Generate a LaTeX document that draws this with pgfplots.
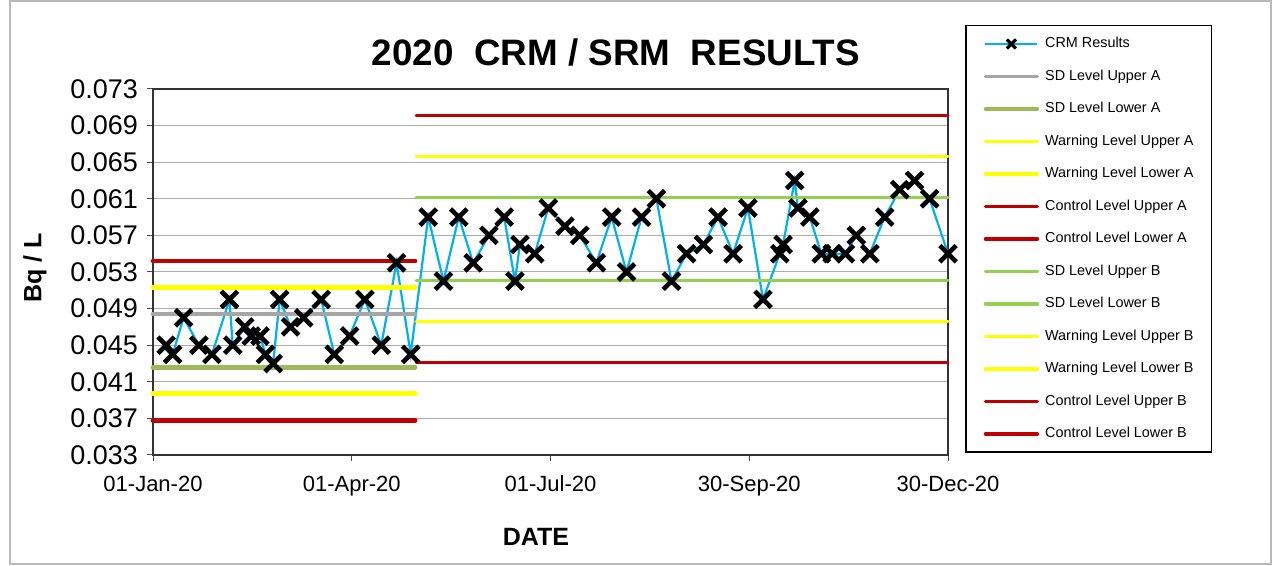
\documentclass[border=0pt]{standalone}
\usepackage{fontspec}
\setmainfont{Liberation Sans}
\usepackage{pgfplots}
\pgfplotsset{compat=1.18}
\definecolor{crmblue}{HTML}{00B0F0}
\definecolor{sdgray}{HTML}{A6A6A6}
\definecolor{sdgreenA}{HTML}{9BBB59}
\definecolor{sdgreenB}{HTML}{92D050}
\definecolor{warnyellow}{HTML}{FFFF00}
\definecolor{ctrlred}{HTML}{C00000}
\begin{document}
\begin{tikzpicture}
\path[use as bounding box] (0pt,0pt) rectangle (640.5pt,283pt);
\draw[gray!55, line width=0.6pt] (5pt,1pt) rectangle (635.5pt,282.5pt);
\begin{axis}[
  at={(76.5pt,55.5pt)}, anchor=south west, scale only axis,
  width=397.5pt, height=183pt,
  xmin=0, xmax=364, ymin=0.033, ymax=0.073,
  clip=false,
  scaled y ticks=false, scaled x ticks=false,
  xtick={0,91,182,273,364},
  xticklabels={01-Jan-20,01-Apr-20,01-Jul-20,30-Sep-20,30-Dec-20},
  ytick={0.033,0.037,0.041,0.045,0.049,0.053,0.057,0.061,0.065,0.069,0.073},
  yticklabels={0.033,0.037,0.041,0.045,0.049,0.053,0.057,0.061,0.065,0.069,0.073},
  /pgf/number format/assume math mode=true,
  xtick pos=bottom, ytick pos=left,
  tick align=outside, major tick length=3pt,
  tick style={black!70, line width=0.5pt},
  axis line style={black!80, line width=1pt},
  ymajorgrids, grid style={gray!65, line width=0.5pt},
  xticklabel style={font=\fontsize{11}{12}\selectfont, yshift=-4pt},
  yticklabel style={font=\fontsize{13.5}{14}\selectfont, xshift=-1pt},
  title={2020\ \ CRM / SRM\ \ RESULTS},
  title style={at={(0.5824,1.068)}, anchor=center, font=\bfseries\fontsize{18.4}{20}\selectfont},
  xlabel={DATE},
  xlabel style={at={(0.4818,-0.224)}, anchor=center, font=\bfseries\fontsize{12.5}{14}\selectfont},
  ylabel={Bq / L},
  ylabel style={at={(-0.1484,0.511)}, anchor=center, rotate=0, font=\bfseries\fontsize{12.5}{14}\selectfont},
  legend image code/.code={\draw[mark repeat=2,mark phase=2,#1] plot coordinates {(0pt,0pt) (13pt,0pt) (26pt,0pt)};},
  legend cell align=left,
  legend style={at={(1.0214,1.1749)}, anchor=north west, draw=black, line width=0.75pt, fill=white,
    font=\fontsize{7.2}{8}\selectfont, inner xsep=9pt, inner ysep=1pt, row sep=0pt, column sep=3pt,
    nodes={inner sep=0pt, minimum height=16.25pt}},
]
\addplot[crmblue, line width=1.1pt, mark=x, mark options={black, line width=2.3pt, mark size=5.8pt},
  legend image post style={line width=1.1pt, mark options={black, line width=1.6pt, mark size=3.2pt}}] coordinates {
(6,0.045) (9,0.044) (14,0.048) (21,0.045) (27,0.044) (35,0.050) (36.5,0.045) (42,0.047)
(45,0.046) (49,0.046) (51.5,0.044) (55,0.043) (58,0.050) (63,0.047) (69,0.048) (77,0.050)
(83,0.044) (90,0.046) (97,0.050) (104.5,0.045) (111.5,0.054) (118,0.044)
(126,0.059) (133,0.052) (140,0.059) (146.6,0.054) (153.8,0.057) (160.8,0.059) (165.7,0.052)
(168,0.056) (174.8,0.055) (181,0.060) (188.6,0.058) (195.4,0.057) (203,0.054) (210,0.059)
(216.8,0.053) (223.7,0.059) (230.5,0.061) (237.4,0.052) (244.3,0.055) (252,0.056) (258.7,0.059)
(265.6,0.055) (272.4,0.060) (279.3,0.050) (287,0.055) (288.5,0.056) (293.8,0.063) (295.3,0.060)
(300.7,0.059) (306,0.055) (311,0.055) (317,0.055) (322,0.057) (328.2,0.055) (335,0.059)
(341.9,0.062) (348.7,0.063) (355.6,0.061) (364,0.055)
};
\addlegendentry{CRM Results}
\addplot[sdgray, line width=2.4pt, line cap=round, legend image post style={line width=1.7pt}] coordinates {(0,0.0484) (120,0.0484)};
\addlegendentry{SD Level Upper A}
\addplot[sdgreenA, line width=2.4pt, line cap=round, legend image post style={line width=1.7pt}] coordinates {(0,0.0426) (120,0.0426)};
\addlegendentry{SD Level Lower A}
\addplot[warnyellow, line width=2.4pt, line cap=round, legend image post style={line width=1.7pt}] coordinates {(0,0.0513) (120,0.0513)};
\addlegendentry{Warning Level Upper A}
\addplot[warnyellow, line width=2.4pt, line cap=round, legend image post style={line width=1.7pt}] coordinates {(0,0.0397) (120,0.0397)};
\addlegendentry{Warning Level Lower A}
\addplot[ctrlred, line width=2.4pt, line cap=round, legend image post style={line width=1.7pt}] coordinates {(0,0.0542) (120,0.0542)};
\addlegendentry{Control Level Upper A}
\addplot[ctrlred, line width=2.4pt, line cap=round, legend image post style={line width=1.7pt}] coordinates {(0,0.0368) (120,0.0368)};
\addlegendentry{Control Level Lower A}
\addplot[sdgreenB, line width=1.5pt, line cap=round, legend image post style={line width=1.7pt}] coordinates {(120.5,0.0611) (364,0.0611)};
\addlegendentry{SD Level Upper B}
\addplot[sdgreenB, line width=1.5pt, line cap=round, legend image post style={line width=1.7pt}] coordinates {(120.5,0.0521) (364,0.0521)};
\addlegendentry{SD Level Lower B}
\addplot[warnyellow, line width=1.5pt, line cap=round, legend image post style={line width=1.7pt}] coordinates {(120.5,0.0656) (364,0.0656)};
\addlegendentry{Warning Level Upper B}
\addplot[warnyellow, line width=1.5pt, line cap=round, legend image post style={line width=1.7pt}] coordinates {(120.5,0.0476) (364,0.0476)};
\addlegendentry{Warning Level Lower B}
\addplot[ctrlred, line width=1.5pt, line cap=round, legend image post style={line width=1.7pt}] coordinates {(120.5,0.0701) (364,0.0701)};
\addlegendentry{Control Level Upper B}
\addplot[ctrlred, line width=1.5pt, line cap=round, legend image post style={line width=1.7pt}] coordinates {(120.5,0.0431) (364,0.0431)};
\addlegendentry{Control Level Lower B}
\end{axis}
\end{tikzpicture}
\end{document}
